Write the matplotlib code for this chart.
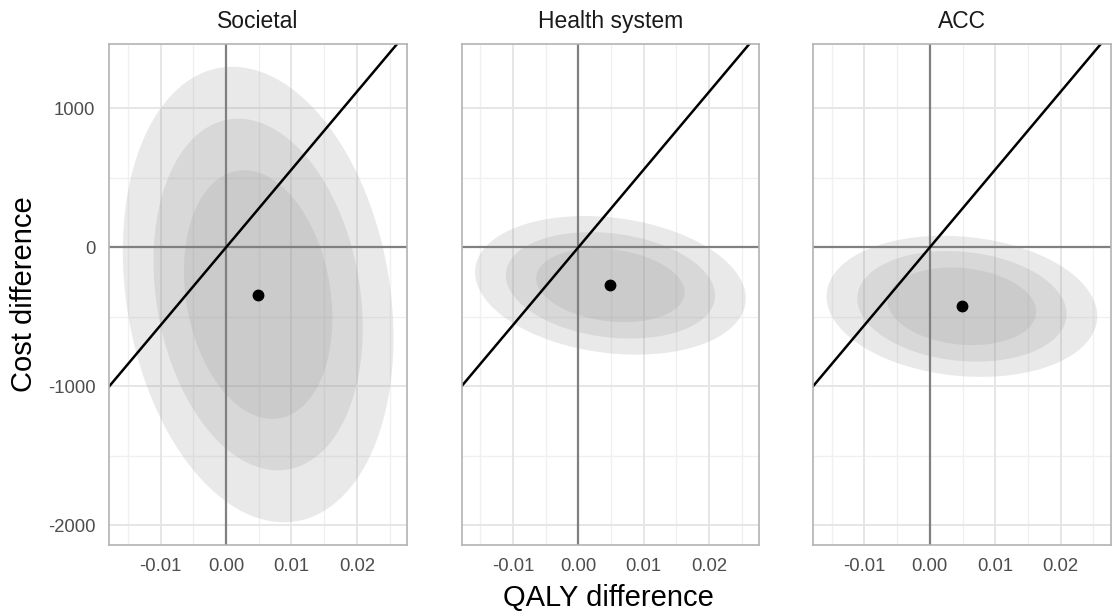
import numpy as np
import matplotlib.pyplot as plt

plt.rcParams['font.family'] = ['Liberation Sans', 'DejaVu Sans']

# perspectives (facets)
perspectives = ['Societal', 'Health system', 'ACC']

# mean incremental QALY and cost (the black dots)
qaly_mean = [0.0049, 0.0049, 0.0049]
cost_mean = [-340, -274, -425]

# ellipse half-extents, outer (95%) -> middle -> inner
qaly_half = [0.0207, 0.0160, 0.01135]
cost_half = [
    [1640, 1266, 895],   # Societal
    [499, 383, 265],     # Health system
    [508, 398, 279],     # ACC
]
# correlation between QALY and cost
rho = [-0.19, -0.19, -0.14]

# willingness-to-pay threshold (slope of the diagonal)
wtp = 56000

x_ticks = [-0.01, 0.00, 0.01, 0.02]
x_minor = [-0.015, -0.005, 0.005, 0.015, 0.025]
y_ticks = [-2000, -1000, 0, 1000]
y_minor = [-1500, -500, 500]


# outline of an ellipse with given half extents and correlation
def ellipse_xy(cx, cy, a, b, r, n=200):
    t = np.linspace(0, 2 * np.pi, n)
    x = cx + a * np.cos(t)
    y = cy + b * (r * np.cos(t) + np.sqrt(1 - r ** 2) * np.sin(t))
    return x, y


# build every ellipse first so the shared axis range can be found
shapes = []
for i in range(len(perspectives)):
    rings = []
    for k in range(len(qaly_half)):
        rings.append(ellipse_xy(qaly_mean[i], cost_mean[i], qaly_half[k], cost_half[i][k], rho[i]))
    shapes.append(rings)

all_x = np.concatenate([r[0] for s in shapes for r in s])
all_y = np.concatenate([r[1] for s in shapes for r in s])
dx = (all_x.max() - all_x.min()) * 0.05
dy = (all_y.max() - all_y.min()) * 0.05
xlim = (all_x.min() - dx, all_x.max() + dx)
ylim = (all_y.min() - dy, all_y.max() + dy)

fig = plt.figure(figsize=(11.13, 6.13), dpi=100)
lefts = [0.0982, 0.4147, 0.7305]
w = 0.2675
bottom = 0.1109
h = 0.8173

for i, name in enumerate(perspectives):
    ax = fig.add_axes([lefts[i], bottom, w, h])
    ax.set_xlim(xlim)
    ax.set_ylim(ylim)

    # grid
    for v in x_minor:
        ax.axvline(v, color='#f0f0f0', lw=1.0, zorder=0)
    for v in y_minor:
        ax.axhline(v, color='#f0f0f0', lw=1.0, zorder=0)
    for v in x_ticks:
        ax.axvline(v, color='#e6e6e6', lw=1.4, zorder=0)
    for v in y_ticks:
        ax.axhline(v, color='#e6e6e6', lw=1.4, zorder=0)

    # ellipses, outer first
    for ex, ey in shapes[i]:
        ax.fill(ex, ey, color='#a0a0a0', alpha=0.23, lw=0, zorder=1)

    ax.axhline(0, color='#808080', lw=1.6, zorder=2)
    ax.axvline(0, color='#808080', lw=1.6, zorder=2)
    ax.axline((0, 0), slope=wtp, color='black', lw=1.8, zorder=3)
    ax.plot(qaly_mean[i], cost_mean[i], 'o', color='black', ms=7.5, zorder=4)

    ax.set_xticks(x_ticks)
    ax.set_xticklabels(['-0.01', '0.00', '0.01', '0.02'])
    ax.set_yticks(y_ticks)
    if i == 0:
        ax.set_yticklabels([str(v) for v in y_ticks])
    else:
        ax.set_yticklabels([])
    ax.tick_params(length=0, labelsize=13.3, labelcolor='#4d4d4d')
    ax.tick_params(axis='x', pad=9)
    ax.tick_params(axis='y', pad=10)
    for s in ax.spines.values():
        s.set_color('#b3b3b3')
        s.set_linewidth(1.2)
        s.set_zorder(5)
    ax.set_title(name, fontsize=16.5, color='#1a1a1a', pad=11.5)

fig.text(24 / 1113, 1 - 294.5 / 613, 'Cost difference', rotation=90,
         ha='center', va='center', fontsize=21)
fig.text(608 / 1113, 1 - 606 / 613, 'QALY difference', ha='center',
         va='baseline', fontsize=21)

fig.savefig('out.png', dpi=100)
